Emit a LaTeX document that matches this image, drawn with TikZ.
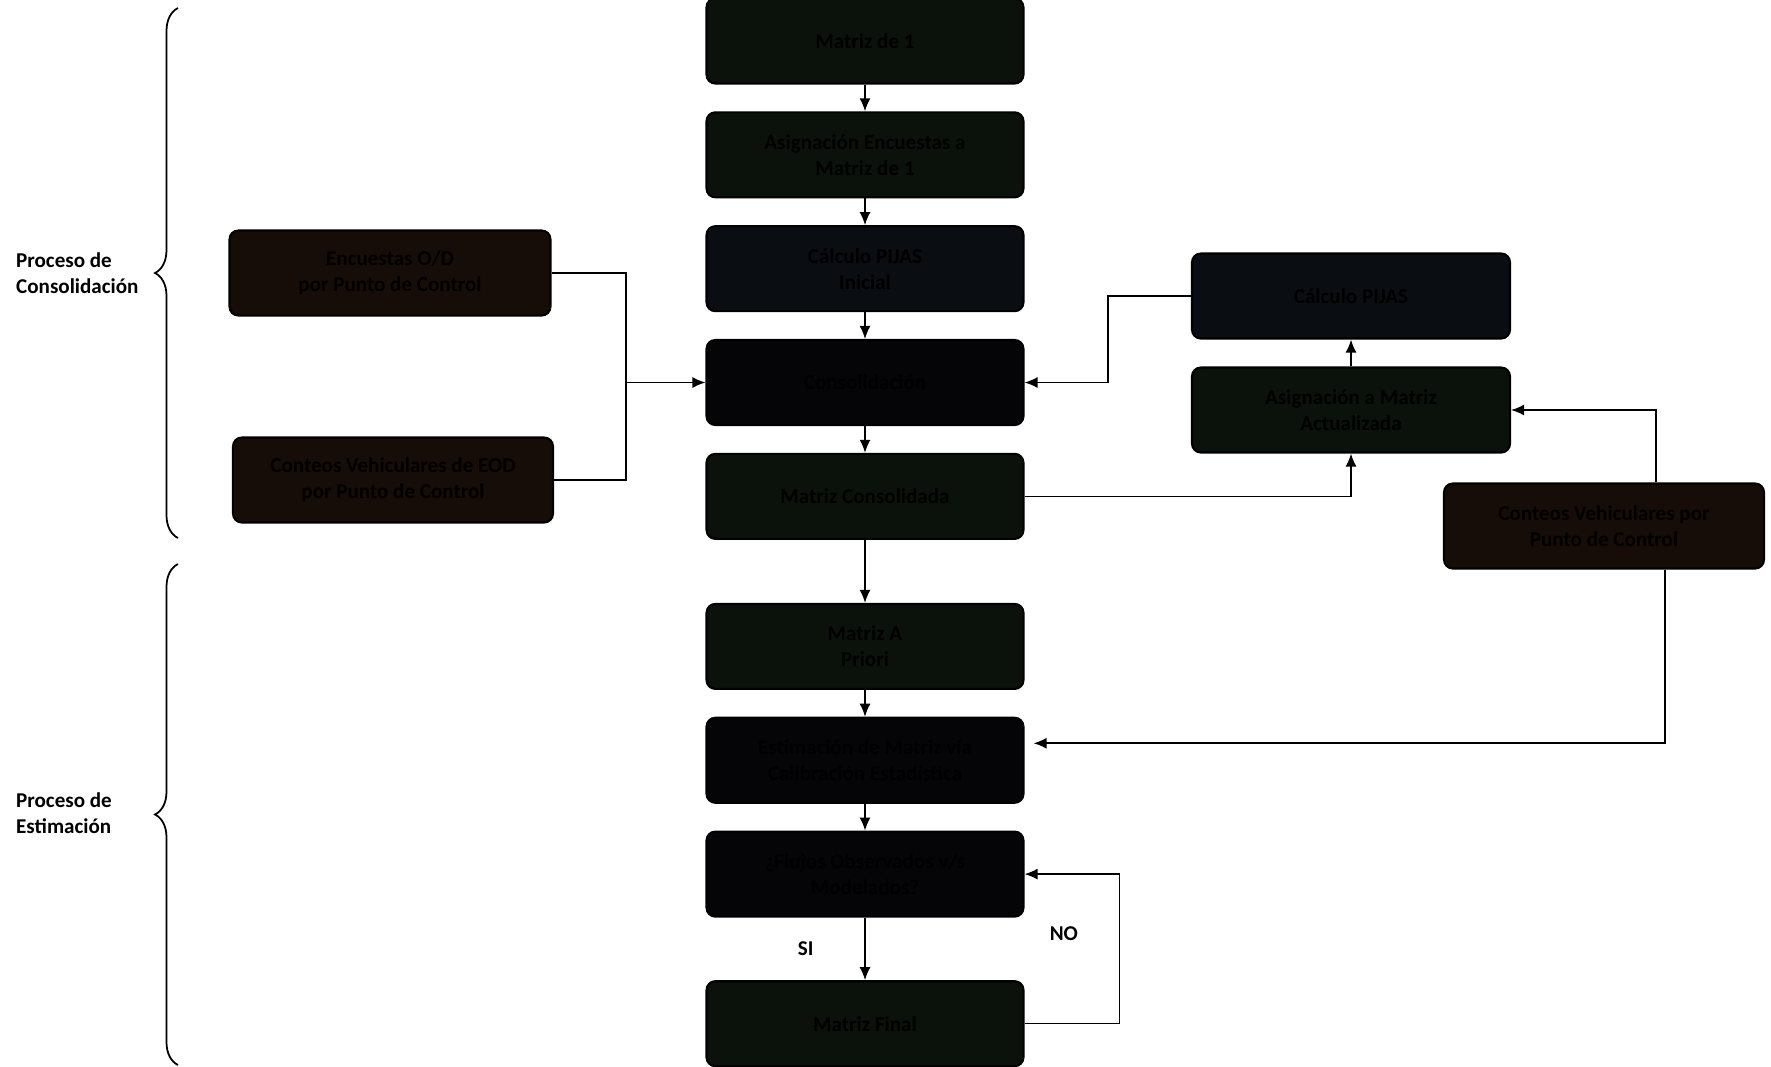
\documentclass[tikz,border=0pt]{standalone}
\usepackage{fontspec}
\setmainfont{Carlito}
\usetikzlibrary{positioning, arrows.meta, decorations.pathreplacing}
\definecolor{boxgreen}{RGB}{11,18,12}
\definecolor{boxblue}{RGB}{10,13,17}
\definecolor{boxbrown}{RGB}{22,13,8}
\definecolor{boxblack}{RGB}{5,5,7}

\begin{document}
\begin{tikzpicture}[x=0.02cm, y=-0.02cm,
      stage/.style={draw=black, line width=1.2pt, rounded corners=5pt,
        minimum width=6.34cm, minimum height=1.7cm, align=center,
        font=\fontsize{12}{14.8}\selectfont\bfseries, text=black},
      tag/.style={font=\fontsize{12}{14.8}\selectfont\bfseries, align=left},
      link/.style={-{Latex[length=2.6mm, width=2.2mm]}, line width=0.9pt},
      node distance=0.535cm]
    \useasboundingbox (0,0) rectangle (1771,1066);
    \node[stage, fill=boxgreen] (ones) at (865,41) {Matriz de 1};
    \node[stage, fill=boxgreen, below=of ones] (assign) {%
      Asignación Encuestas a\\Matriz de 1};
    \node[stage, fill=boxblue, below=of assign] (pijasini) {%
      Cálculo PIJAS\\Inicial};
    \node[stage, fill=boxblack, below=of pijasini] (merge) {Consolidación};
    \node[stage, fill=boxgreen, below=of merge] (consol) {Matriz Consolidada};
    \node[stage, fill=boxgreen, below=1.26cm of consol] (prior) {%
      Matriz A\\Priori};
    \node[stage, fill=boxblack, below=of prior] (estim) {%
      Estimación de Matriz vía\\Calibración Estadística};
    \node[stage, fill=boxblack, below=of estim] (flows) {%
      ¿Flujos Observados v/s\\Modelados?};
    \node[stage, fill=boxgreen, below=1.25cm of flows] (final) {Matriz Final};

    \node[stage, fill=boxbrown, minimum width=6.42cm] (surveys) at (390,273) {%
      Encuestas O/D\\por Punto de Control};
    \node[stage, fill=boxbrown, minimum width=6.4cm] (eodcounts) at (393,480) {%
      Conteos Vehiculares de EOD\\por Punto de  Control};
    \node[stage, fill=boxblue, minimum width=6.36cm] (pijas) at (1351,296) {%
      Cálculo PIJAS};
    \node[stage, fill=boxgreen, minimum width=6.36cm] (update) at (1351,410) {%
      Asignación a Matriz\\Actualizada};
    \node[stage, fill=boxbrown, minimum width=6.4cm] (counts) at (1604,526) {%
      Conteos Vehiculares  por\\Punto de Control};

    \coordinate (joinl) at ([xshift=-1.59cm]merge.west);
    \coordinate (joinr) at ([xshift=1.67cm]merge.east);
    \coordinate (estimin) at ([shift={(0.18cm,0.34cm)}]estim.east);

    \draw[link] (ones) -- (assign);
    \draw[link] (assign) -- (pijasini);
    \draw[link] (pijasini) -- (merge);
    \draw[link] (merge) -- (consol);
    \draw[link] (consol) -- (prior);
    \draw[link] (prior) -- (estim);
    \draw[link] (estim) -- (flows);
    \draw[link] (flows) -- node[tag, left=0.9cm] {SI} (final);
    \draw[line width=0.9pt] (surveys.east) -| (joinl);
    \draw[line width=0.9pt] (eodcounts.east) -| (joinl);
    \draw[link] (joinl) -- (merge.west);
    \draw[link] (pijas.west) -| (joinr) -- (merge.east);
    \draw[link] (consol.east) -| (update.south);
    \draw[link] (update) -- (pijas);
    \draw[link] ([xshift=1.04cm]counts.north) |- (update.east);
    \draw[link] ([xshift=1.22cm]counts.south) |- (estimin);
    \draw[link] (final.east) -- ++(95,0) |- node[tag, pos=0.3, left=0.7cm] {NO} (flows.east);

    \draw[line width=1pt, decorate, decoration={brace, amplitude=0.46cm}]
      (178,538) -- (178,8);
    \draw[line width=1pt, decorate, decoration={brace, amplitude=0.46cm}]
      (178,1065) -- (178,564);
    \node[tag, anchor=west] (consoltag) at (10,273) {Proceso de\\Consolidación};
    \node[tag, anchor=west] (estimtag) at (10,813) {Proceso de\\Estimación};
  \end{tikzpicture}
\end{document}
